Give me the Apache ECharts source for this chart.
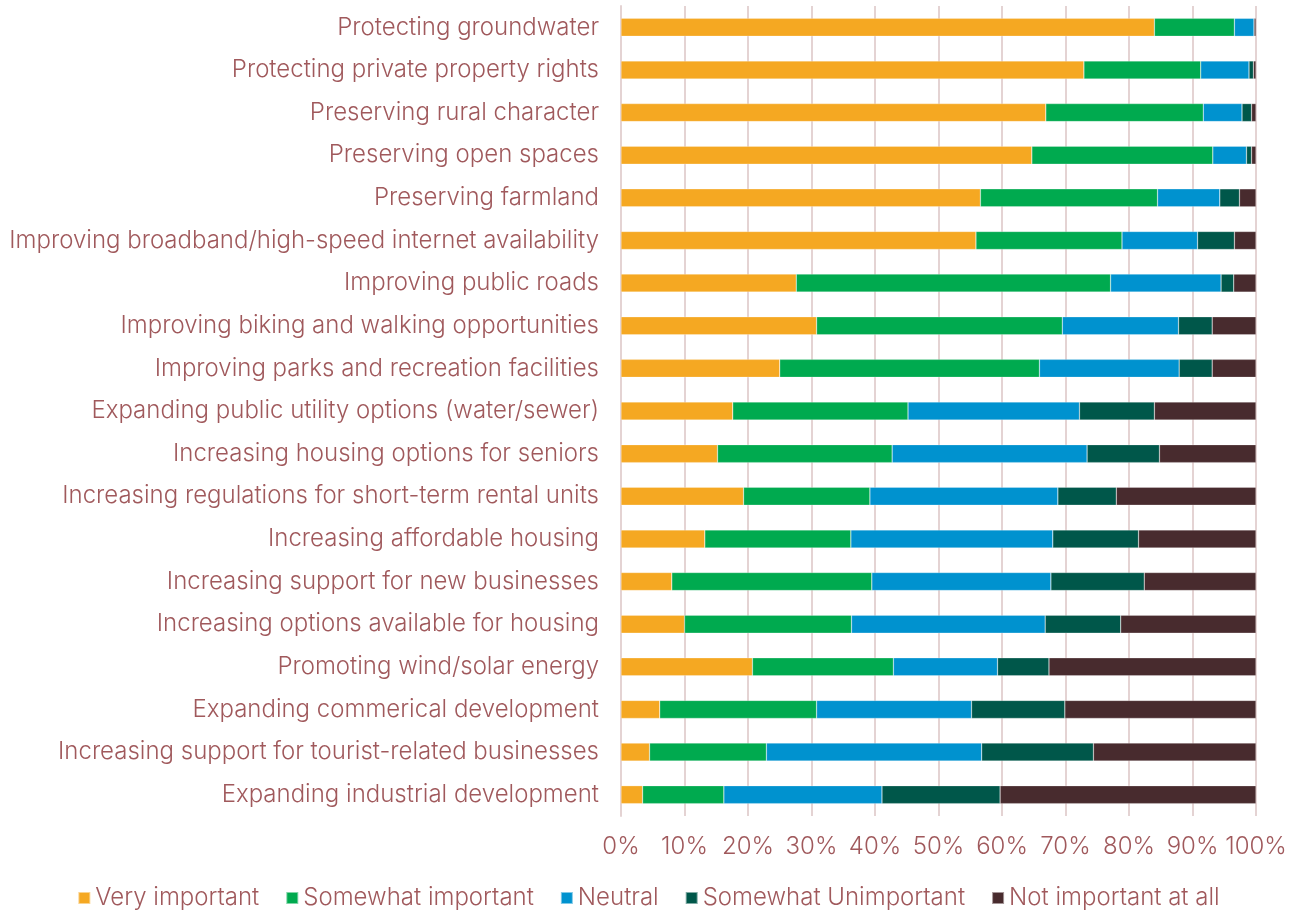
<!DOCTYPE html>
<html>
<head>
<meta charset="utf-8">
<script src="https://cdn.jsdelivr.net/npm/echarts@6/dist/echarts.min.js"></script>
<style>
  html, body { margin: 0; padding: 0; background: #fff; }
  #chart { width: 1297px; height: 911px; }
</style>
</head>
<body>
<div id="chart"></div>
<script>
// Survey priorities, shares of responses (%) per rating, top row first
const categories = [
  'Protecting groundwater',
  'Protecting private property rights',
  'Preserving rural character',
  'Preserving open spaces',
  'Preserving farmland',
  'Improving broadband/high-speed internet availability',
  'Improving public roads',
  'Improving biking and walking opportunities',
  'Improving parks and recreation facilities',
  'Expanding public utility options (water/sewer)',
  'Increasing housing options for seniors',
  'Increasing regulations for short-term rental units',
  'Increasing affordable housing',
  'Increasing support for new businesses',
  'Increasing options available for housing',
  'Promoting wind/solar energy',
  'Expanding commerical development',
  'Increasing support for tourist-related businesses',
  'Expanding industrial development'
];

const veryImportant     = [84.0, 72.9, 66.9, 64.7, 56.6, 55.9, 27.6, 30.8, 25.0, 17.6, 15.2, 19.3, 13.2, 8.0, 10.0, 20.7, 6.1, 4.5, 3.4];
const somewhatImportant = [12.6, 18.4, 24.8, 28.5, 27.9, 23.0, 49.5, 38.7, 40.9, 27.6, 27.5, 19.9, 23.0, 31.5, 26.3, 22.2, 24.7, 18.4, 12.8];
const neutral           = [3.1, 7.6, 6.1, 5.3, 9.8, 11.9, 17.4, 18.3, 22.0, 27.0, 30.7, 29.6, 31.8, 28.2, 30.5, 16.4, 24.4, 33.9, 24.9];
const somewhatUnimp     = [0.0, 0.7, 1.5, 0.8, 3.1, 5.8, 2.0, 5.3, 5.2, 11.8, 11.4, 9.2, 13.5, 14.7, 11.9, 8.1, 14.7, 17.6, 18.6];
const notImportant      = [0.3, 0.4, 0.7, 0.7, 2.6, 3.4, 3.5, 6.9, 6.9, 16.0, 15.2, 22.0, 18.5, 17.6, 21.3, 32.6, 30.1, 25.6, 40.3];

const seriesNames = ['Very important', 'Somewhat important', 'Neutral', 'Somewhat Unimportant', 'Not important at all'];
const seriesData = [veryImportant, somewhatImportant, neutral, somewhatUnimp, notImportant];
const colors = ['#F5A822', '#00AA4F', '#0092CF', '#00574A', '#482B2E'];

const textColor = '#A0595C';
const fontFamily = 'Inter, Lato, sans-serif';

const chart = echarts.init(document.getElementById('chart'));
chart.setOption({
  animation: false,
  color: colors,
  textStyle: { fontFamily: fontFamily },
  grid: { left: 621, right: 41, top: 6, bottom: 95, containLabel: false },
  xAxis: {
    type: 'value',
    min: 0,
    max: 100,
    interval: 10,
    axisLabel: {
      formatter: '{value}%',
      color: textColor,
      fontSize: 24,
      fontWeight: 300,
      fontFamily: fontFamily,
      margin: 19
    },
    axisLine: { show: false },
    axisTick: { show: false },
    splitLine: { show: true, lineStyle: { color: '#E4D3D3', width: 2 } }
  },
  yAxis: {
    type: 'category',
    inverse: true,
    data: categories,
    axisLabel: {
      color: textColor,
      fontSize: 24,
      fontWeight: 300,
      fontFamily: fontFamily,
      margin: 22
    },
    axisLine: { show: true, lineStyle: { color: '#E4D3D3', width: 2 } },
    axisTick: { show: false }
  },
  legend: {
    bottom: 1,
    left: 'center',
    padding: 0,
    itemWidth: 12,
    itemHeight: 12,
    itemGap: 26,
    icon: 'rect',
    textStyle: { color: textColor, fontSize: 24, fontWeight: 300, fontFamily: fontFamily },
    data: seriesNames
  },
  series: seriesNames.map((name, i) => ({
    name: name,
    type: 'bar',
    stack: 'total',
    barWidth: 18,
    data: seriesData[i],
    itemStyle: { borderColor: 'rgba(255,255,255,0.5)', borderWidth: 0.5 }
  }))
});
</script>
</body>
</html>
